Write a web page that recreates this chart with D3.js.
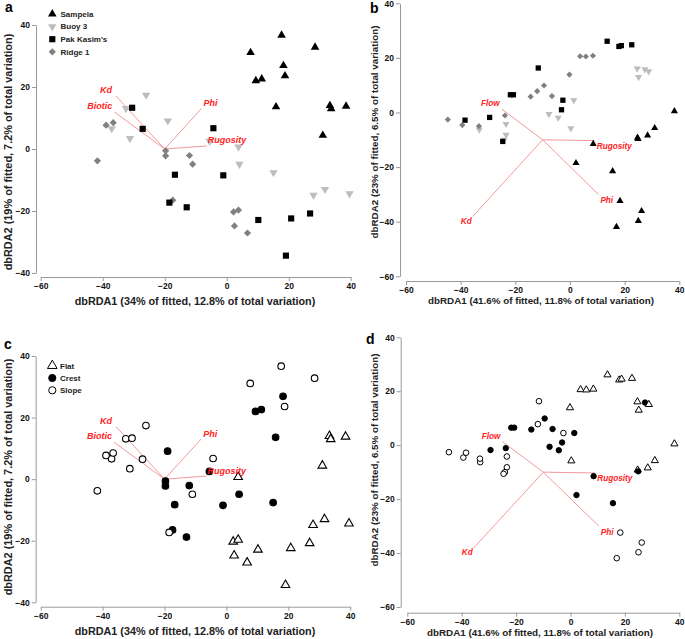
<!DOCTYPE html>
<html>
<head>
<meta charset="utf-8">
<script src="https://cdn.jsdelivr.net/npm/d3@7"></script>
<style>
  html, body { margin: 0; padding: 0; background: #fff; }
  svg { display: block; font-family: "Liberation Sans", Arial, sans-serif; }
</style>
</head>
<body>
<svg id="chart" width="685" height="639"></svg>
<script>
// ---------------- DATA ----------------
// Ordination 1 (panels a & c): [dbRDA1, dbRDA2, habitat]
const sampelaA = [[7.7,31.1,"Slope"],[17.7,36.7,"Slope"],[28.5,32.8,"Slope"],[18.3,26.9,"Crest"],[9.4,22.0,"Crest"],[11.3,22.6,"Crest"],[18.8,23.6,"Slope"],[15.9,13.6,"Crest"],[33.3,14.0,"Flat"],[33.7,13.0,"Flat"],[38.5,13.8,"Flat"],[31.0,4.4,"Flat"]];
const buoyA = [[-26.0,17.4,"Slope"],[-32.5,13.1,"Slope"],[-19.0,9.1,"Crest"],[-37.1,6.6,"Slope"],[-31.2,3.4,"Slope"],[-5.5,2.5,"Crest"],[3.8,0.7,"Flat"],[4.1,-4.9,"Crest"],[15.1,-7.6,"Crest"],[28.0,-14.9,"Flat"],[31.7,-13.0,"Flat"],[39.6,-14.4,"Flat"]];
const pakA = [[-30.5,13.3,"Slope"],[-27.1,6.5,"Slope"],[-4.3,6.7,"Slope"],[-16.7,-8.3,"Crest"],[-1.1,-8.5,"Crest"],[-18.5,-17.3,"Slope"],[-12.9,-18.8,"Crest"],[10.2,-22.9,"Flat"],[20.8,-22.4,"Flat"],[26.9,-20.8,"Flat"],[19.1,-34.4,"Flat"]];
const ridgeA = [[-38.9,7.7,"Slope"],[-36.6,8.5,"Slope"],[-41.7,-3.8,"Slope"],[-19.7,-0.6,"Crest"],[-19.7,-2.2,"Crest"],[-12.0,-2.1,"Crest"],[-11.0,-4.9,"Slope"],[-17.4,-16.5,"Crest"],[2.2,-20.3,"Flat"],[3.8,-19.7,"Flat"],[2.5,-24.8,"Flat"],[6.7,-27.1,"Flat"]];

// Ordination 2 (panels b & d)
const sampelaB = [[38.2,0.5,"Flat"],[31.0,-5.7,"Flat"],[28.4,-8.4,"Flat"],[24.7,-9.2,"Flat"],[24.9,-9.7,"Crest"],[8.5,-11.5,"Crest"],[2.2,-18.5,"Crest"],[15.6,-21.5,"Crest"],[18.3,-32.4,"Slope"],[26.2,-36.1,"Slope"],[25.0,-39.7,"Slope"],[17.0,-41.9,"Slope"]];
const buoyB = [[24.6,16.1,"Flat"],[25.1,13.0,"Flat"],[27.4,15.8,"Crest"],[28.8,15.1,"Flat"],[1.4,4.5,"Crest"],[-7.7,-0.6,"Crest"],[-4.3,-1.9,"Crest"],[0.3,-5.8,"Flat"],[-23.4,-4.2,"Slope"],[-23.4,-8.2,"Slope"],[-24.1,-10.0,"Slope"],[-33.2,-6.3,"Slope"]];
const pakB = [[-38.4,-2.8,"Slope"],[-29.4,-1.8,"Crest"],[-24.6,-10.6,"Slope"],[-21.8,6.5,"Crest"],[-20.7,6.5,"Crest"],[-11.6,16.3,"Slope"],[-2.6,4.5,"Slope"],[-3.1,1.0,"Crest"],[13.6,26.1,"Flat"],[17.9,24.2,"Flat"],[18.8,24.5,"Flat"],[22.6,24.8,"Flat"]];
const ridgeB = [[-44.7,-2.6,"Slope"],[-39.4,-4.6,"Slope"],[-33.3,-5.0,"Slope"],[-23.8,-1.1,"Crest"],[-14.4,5.8,"Crest"],[-12.0,7.8,"Slope"],[-9.5,9.9,"Crest"],[-6.6,6.0,"Crest"],[-0.2,13.9,"Flat"],[3.7,20.6,"Flat"],[5.8,20.5,"Flat"],[8.4,20.8,"Flat"]];

// Vector overlays: origin and endpoints [name, x, y]
const originA = [-20, 0];
const vectorsA = [["Kd",-35.7,17.1],["Biotic",-36.3,12.0],["Phi",-8.1,13.1],["Rugosity",-6.4,1.0]];
const originB = [-10, -10];
const vectorsB = [["Flow",-25.0,1.3],["Rugosity",9.1,-10.3],["Phi",10.4,-30.0],["Kd",-35.6,-38.1]];

const sites = ["Sampela","Buoy 3","Pak Kasim's","Ridge 1"];
const habitats = ["Flat","Crest","Slope"];
const xTicks = [-60,-40,-20,0,20,40];
const yTicksAC = [-40,-20,0,20,40];
const yTicksBD = [-60,-40,-20,0,20,40];
const xTitleAC = "dbRDA1 (34% of fitted, 12.8% of total variation)";
const yTitleAC = "dbRDA2 (19% of fitted, 7.2% of total variation)";
const xTitleBD = "dbRDA1 (41.6% of fitted, 11.8% of total variation)";
const yTitleBD = "dbRDA2 (23% of fitted, 6.5% of total variation)";

// ---------------- STYLE ----------------
const siteStyle = {
  "Sampela":     {shape: "triangle", fill: "#000000"},
  "Buoy 3":      {shape: "invtriangle", fill: "#bdbdbd"},
  "Pak Kasim's": {shape: "square", fill: "#000000"},
  "Ridge 1":     {shape: "diamond", fill: "#808080"}
};
const habStyle = {
  "Flat":  {shape: "triangle", fill: "#ffffff", stroke: "#000"},
  "Crest": {shape: "circle", fill: "#000000", stroke: "#000"},
  "Slope": {shape: "circle", fill: "#ffffff", stroke: "#000"}
};

const svg = d3.select("#chart");
const FONT = "'Liberation Sans', Arial, sans-serif";

function tagged(arr, site) { return arr.map(d => ({x: d[0], y: d[1], site: site, hab: d[2]})); }
const ptsA = [].concat(tagged(buoyA,"Buoy 3"), tagged(ridgeA,"Ridge 1"), tagged(pakA,"Pak Kasim's"), tagged(sampelaA,"Sampela"));
const ptsB = [].concat(tagged(buoyB,"Buoy 3"), tagged(ridgeB,"Ridge 1"), tagged(pakB,"Pak Kasim's"), tagged(sampelaB,"Sampela"));

function symbolPath(shape, size) {
  if (shape === "triangle" || shape === "invtriangle") return d3.symbol(d3.symbolTriangle, size)();
  if (shape === "square" || shape === "diamond") return d3.symbol(d3.symbolSquare, size)();
  return d3.symbol(d3.symbolCircle, size)();
}
function symbolRot(shape) {
  if (shape === "invtriangle") return 180;
  if (shape === "diamond") return 45;
  return 0;
}

function drawMarker(g, shape, cx, cy, sizes, fill, stroke, sw) {
  if (shape === "circle") {
    g.append("circle").attr("cx", cx).attr("cy", cy)
      .attr("r", fill === "#000000" ? sizes.rFilled : sizes.rOpen)
      .attr("fill", fill).attr("stroke", stroke || "none").attr("stroke-width", sw || 0);
  } else {
    g.append("path").attr("d", symbolPath(shape, sizes[shape]))
      .attr("transform", `translate(${cx},${cy}) rotate(${symbolRot(shape)})`)
      .attr("fill", fill).attr("stroke", stroke || "none").attr("stroke-width", sw || 0);
  }
}

function panel(cfg) {
  const g = svg.append("g");
  const x = d3.scaleLinear().domain([-60, 40]).range(cfg.xRange);
  const y = d3.scaleLinear().domain(cfg.yDomain).range(cfg.yRange);

  // axes
  const ax = g.append("g").attr("transform", `translate(0,${cfg.xAxisY})`)
    .call(d3.axisBottom(x).tickValues(xTicks).tickSize(4).tickSizeOuter(0).tickPadding(2).tickFormat(d3.format("d")));
  const ay = g.append("g").attr("transform", `translate(${cfg.yAxisX},0)`)
    .call(d3.axisLeft(y).tickValues(cfg.yTicks).tickSize(4).tickSizeOuter(0).tickPadding(2).tickFormat(d3.format("d")));
  [ax, ay].forEach(a => {
    a.attr("font-family", FONT).attr("font-size", 8.5).attr("font-weight", "bold");
    a.select(".domain").attr("stroke", "#9a9a9a");
    a.selectAll(".tick line").attr("stroke", "#9a9a9a");
    a.selectAll(".tick text").attr("fill", "#111");
  });

  // titles
  g.append("text").attr("x", cfg.xTitle[0]).attr("y", cfg.xTitle[1])
    .attr("text-anchor", "middle").attr("font-size", cfg.xTitleSize).attr("font-weight", "bold")
    .attr("fill", "#222").text(cfg.xTitleText);
  g.append("text").attr("transform", `translate(${cfg.yTitle[0]},${cfg.yTitle[1]}) rotate(-90)`)
    .attr("dy", "0.35em").attr("text-anchor", "middle").attr("font-size", cfg.yTitleSize).attr("font-weight", "bold")
    .attr("fill", "#222").text(cfg.yTitleText);
  g.append("text").attr("x", cfg.letter[0]).attr("y", cfg.letter[1])
    .attr("font-size", 14).attr("font-weight", "bold").attr("fill", "#000").text(cfg.letterText);

  // vectors
  const ox = x(cfg.origin[0]), oy = y(cfg.origin[1]);
  const vg = g.append("g");
  cfg.vectors.forEach(v => {
    vg.append("line").attr("x1", ox).attr("y1", oy).attr("x2", x(v[1])).attr("y2", y(v[2]))
      .attr("stroke", "#f29a9a").attr("stroke-width", 1);
  });

  // points
  const pg = g.append("g");
  cfg.points.forEach(p => {
    const cx = x(p.x), cy = y(p.y);
    if (cfg.mode === "site") {
      const s = siteStyle[p.site];
      drawMarker(pg, s.shape, cx, cy, cfg.sizes, s.fill, null, 0);
    } else {
      const s = habStyle[p.hab];
      drawMarker(pg, s.shape, cx, cy, cfg.sizes, s.fill, s.stroke, cfg.sw);
    }
  });

  // vector labels
  cfg.vectors.forEach(v => {
    const off = cfg.labelOff[v[0]];
    g.append("text").attr("x", x(v[1]) + off[0]).attr("y", y(v[2]) + off[1])
      .attr("text-anchor", off[2]).attr("font-size", cfg.labelSize)
      .attr("font-weight", "bold").attr("font-style", "italic").attr("fill", "#ff2222")
      .text(v[0]);
  });

  // legend
  if (cfg.legend) {
    const lg = g.append("g");
    cfg.legend.items.forEach((it, i) => {
      const ly = cfg.legend.y0 + i * cfg.legend.dy;
      if (cfg.mode === "site") {
        const s = siteStyle[it];
        drawMarker(lg, s.shape, cfg.legend.x, ly, cfg.legend.sizes, s.fill, null, 0);
      } else {
        const s = habStyle[it];
        drawMarker(lg, s.shape, cfg.legend.x, ly, cfg.legend.sizes, s.fill, s.stroke, 1);
      }
      lg.append("text").attr("x", cfg.legend.tx).attr("y", ly).attr("dy", "0.35em")
        .attr("font-size", 8).attr("font-weight", "bold").attr("fill", "#222").text(it);
    });
  }
}

const labelOffAC = {
  "Kd": [-4, -3, "end"], "Biotic": [-2, -3, "end"],
  "Phi": [2, -2, "start"], "Rugosity": [1, -2.5, "start"]
};
const labelOffBD = {
  "Flow": [-2, -3, "end"], "Rugosity": [2, 8, "start"],
  "Phi": [2, 9, "start"], "Kd": [-1, 7, "end"]
};
const sizesAC = {triangle: 32, invtriangle: 30, square: 38, diamond: 26, rOpen: 3.3, rFilled: 3.3};
const sizesBD = {triangle: 22, invtriangle: 22, square: 28, diamond: 19, rOpen: 2.8, rFilled: 2.7};

panel({
  letterText: "a", letter: [5, 12],
  xRange: [40.7, 350.7], yDomain: [-40, 40], yRange: [273, 25], yTicks: yTicksAC,
  xAxisY: 277, yAxisX: 36,
  xTitle: [195, 305], xTitleSize: 10.8, xTitleText: xTitleAC,
  yTitle: [8.5, 152], yTitleSize: 10.9, yTitleText: yTitleAC,
  origin: originA, vectors: vectorsA, labelOff: labelOffAC, labelSize: 9,
  points: ptsA, mode: "site", sizes: sizesAC,
  legend: {items: sites, x: 52.3, tx: 60.5, y0: 14, dy: 12.6, sizes: sizesAC}
});
panel({
  letterText: "b", letter: [370, 13],
  xRange: [406, 679.3], yDomain: [-60, 40], yRange: [276.3, 3.3], yTicks: yTicksBD,
  xAxisY: 281, yAxisX: 400,
  xTitle: [541, 304], xTitleSize: 9.8, xTitleText: xTitleBD,
  yTitle: [374.5, 132], yTitleSize: 9.8, yTitleText: yTitleBD,
  origin: originB, vectors: vectorsB, labelOff: labelOffBD, labelSize: 8.2,
  points: ptsB, mode: "site", sizes: sizesBD
});
panel({
  letterText: "c", letter: [4, 349],
  xRange: [40.7, 350.2], yDomain: [-40, 40], yRange: [602.3, 356], yTicks: yTicksAC,
  xAxisY: 606.7, yAxisX: 35.7,
  xTitle: [195, 635], xTitleSize: 10.8, xTitleText: xTitleAC,
  yTitle: [8.5, 477], yTitleSize: 10.9, yTitleText: yTitleAC,
  origin: originA, vectors: vectorsA, labelOff: labelOffAC, labelSize: 9,
  points: ptsA, mode: "hab", sizes: sizesAC, sw: 1.1,
  legend: {items: habitats, x: 52.3, tx: 60, y0: 365.7, dy: 12.3, sizes: {triangle: 40, rOpen: 3.6, rFilled: 3.6}}
});
panel({
  letterText: "d", letter: [366, 344],
  xRange: [407.3, 679.3], yDomain: [-60, 40], yRange: [607, 337.3], yTicks: yTicksBD,
  xAxisY: 612.7, yAxisX: 400.7,
  xTitle: [540, 636], xTitleSize: 9.8, xTitleText: xTitleBD,
  yTitle: [375, 460], yTitleSize: 9.8, yTitleText: yTitleBD,
  origin: originB, vectors: vectorsB, labelOff: labelOffBD, labelSize: 8.2,
  points: ptsB, mode: "hab", sizes: sizesBD, sw: 1
});
</script>
</body>
</html>
